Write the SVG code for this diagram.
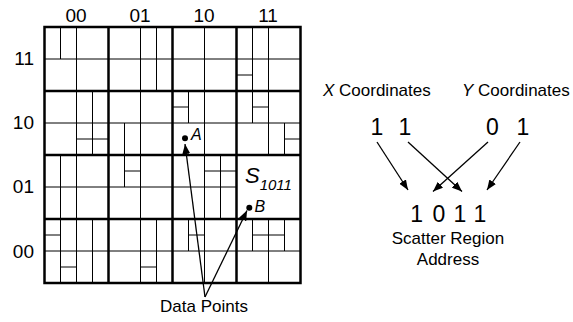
<svg xmlns="http://www.w3.org/2000/svg" width="573" height="322" viewBox="0 0 573 322">
<defs>
<marker id="ah" viewBox="0 0 10 8" refX="10" refY="4" markerWidth="10" markerHeight="8" markerUnits="userSpaceOnUse" orient="auto"><path d="M0,0 L10,4 L0,8 z" fill="#000"/></marker>
</defs>
<style>
.t{font-family:"Liberation Sans",Arial,sans-serif;fill:#000}
.i{font-style:italic}
.thin{stroke:#000;stroke-width:1;fill:none}
.thick{stroke:#000;stroke-width:2.5;fill:none}
.arr{stroke:#000;stroke-width:1.3;fill:none;marker-end:url(#ah)}
</style>
<rect width="573" height="322" fill="#fff"/>
<g id="grid">
<path class="thin" d="M60.5,27V59 M76.5,27V91 M140.5,27V91 M156.5,27V91 M204.5,27V91 M252.5,27V91 M268.5,27V91 M76.5,91V155 M92.5,91V155 M124.5,123V155 M140.5,91V155 M188.5,91V123 M204.5,91V155 M252.5,91V123 M268.5,91V155 M284.5,123V155 M60.5,155V219 M76.5,155V219 M124.5,155V187 M140.5,155V219 M204.5,155V219 M220.5,155V219 M60.5,219V283 M76.5,219V283 M92.5,219V283 M140.5,219V283 M156.5,219V283 M188.5,219V251 M204.5,219V283 M252.5,219V251 M268.5,219V283 M284.5,219V251"/>
<path class="thin" d="M44,59H300 M236,75H252 M44,123H300 M76,139H108 M172,107H188 M252,107H268 M284,139H300 M44,187H236 M124,171H140 M204,171H236 M44,251H300 M44,235H60 M60,267H76 M140,267H156 M188,235H204 M252,235H284"/>
<path class="thick" d="M44.5,27V283 M108.5,27V283 M172.5,27V283 M236.5,27V283 M300.5,27V283 M43.25,27H301.75 M43.25,91H301.75 M43.25,155H301.75 M43.25,219H301.75 M43.25,283H301.75"/>
</g>
<g id="col-labels" class="t" font-size="19" text-anchor="middle">
<text x="76" y="22">00</text><text x="140" y="22">01</text><text x="204" y="22">10</text><text x="268" y="22">11</text>
</g>
<g id="row-labels" class="t" font-size="19" text-anchor="end">
<text x="34" y="65">11</text><text x="34" y="129">10</text><text x="34" y="193">01</text><text x="34" y="257.5">00</text>
</g>
<g id="point-A"><circle cx="185" cy="138.3" r="3"/><text class="t i" x="191" y="140" font-size="16">A</text></g>
<g id="point-B"><circle cx="249.3" cy="207.7" r="3"/><text class="t i" x="254.5" y="212" font-size="16">B</text></g>
<g id="region-S"><text class="t i" x="245" y="183" font-size="22">S<tspan font-size="15" dy="7">1011</tspan></text></g>
<g id="data-points"><text class="t" x="204" y="312" font-size="17" text-anchor="middle">Data Points</text></g>
<g id="x-coords" class="t"><text x="323" y="96" font-size="17"><tspan class="i">X</tspan> Coordinates</text>
<g font-size="23" text-anchor="middle"><text x="377" y="135">1</text><text x="405" y="135">1</text></g></g>
<g id="y-coords" class="t"><text x="462" y="96" font-size="17"><tspan class="i">Y</tspan> Coordinates</text>
<g font-size="23" text-anchor="middle"><text x="492.5" y="135">0</text><text x="523" y="135">1</text></g></g>
<g id="address" class="t" text-anchor="middle">
<g font-size="23"><text x="416.7" y="221.7">1</text><text x="439" y="221.7">0</text><text x="460" y="221.7">1</text><text x="480" y="221.7">1</text></g>
<text x="448" y="244" font-size="17">Scatter Region</text>
<text x="448" y="265" font-size="17">Address</text>
</g>
<g id="connectors">
<line class="arr" x1="205" y1="297" x2="185" y2="144"/>
<line class="arr" x1="205" y1="297" x2="247" y2="210.5"/>
<line class="arr" x1="377" y1="142" x2="408" y2="190"/>
<line class="arr" x1="408" y1="142" x2="462" y2="191.5"/>
<line class="arr" x1="488" y1="142" x2="433" y2="191.5"/>
<line class="arr" x1="520" y1="142" x2="487" y2="190"/>
</g>
</svg>
